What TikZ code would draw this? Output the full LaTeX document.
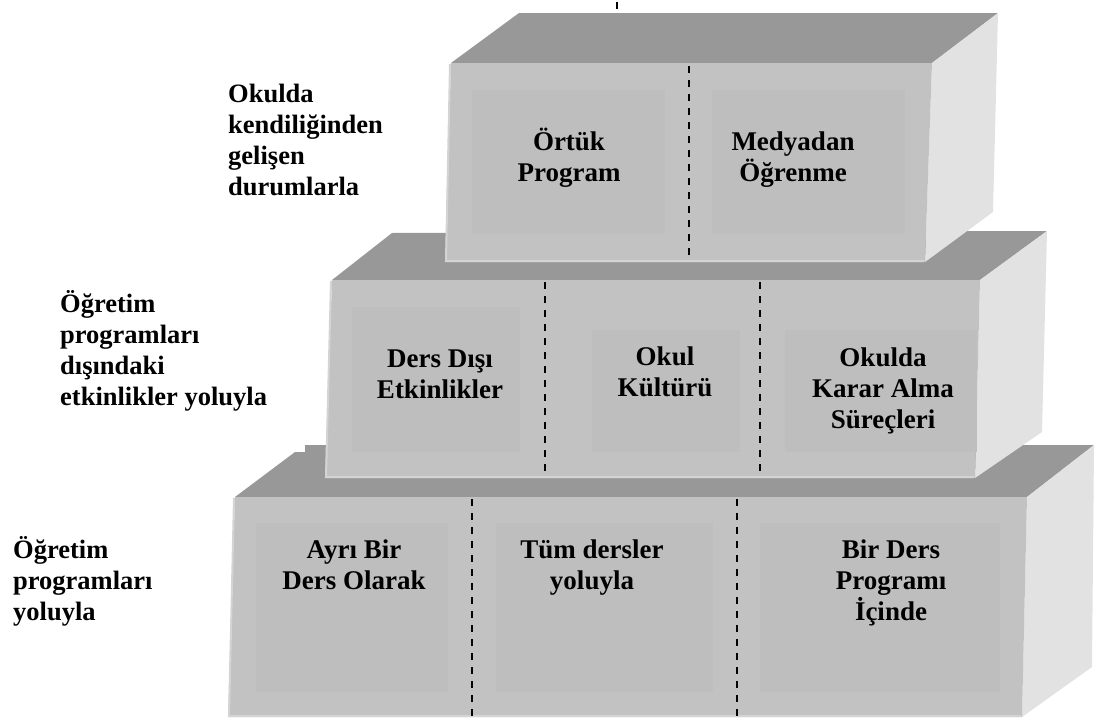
\documentclass[tikz,border=0pt]{standalone}
\usepackage{fontspec}
\setmainfont{Liberation Serif}
\definecolor{frontc}{HTML}{C2C2C2}
\definecolor{panelc}{HTML}{BEBEBE}
\definecolor{topc}{HTML}{989898}
\definecolor{sidec}{HTML}{E2E2E2}
\definecolor{edgec}{HTML}{D4D4D4}
\newcommand{\fstrut}{\rule{0pt}{25pt}}
\tikzset{
  front/.style={fill=frontc, draw=none},
  topface/.style={fill=topc, draw=none},
  sideface/.style={fill=sidec, draw=none},
  panel/.style={fill=panelc, draw=none},
  edgeline/.style={draw=edgec, line width=2pt},
  divider/.style={draw=black, line width=1.6pt, dash pattern=on 7pt off 7pt},
  boxtext/.style={font=\fontsize{27}{31}\selectfont\bfseries, align=center, anchor=north, inner sep=0pt},
  sidetext/.style={font=\fontsize{26.5}{31}\selectfont\bfseries, align=left, anchor=north west, inner sep=0pt}
}
\begin{document}
\begin{tikzpicture}[x=1pt, y=-1pt]
\useasboundingbox (0,0) rectangle (1095,720);
% ---------------- bottom box ----------------
\fill[topface] (235,497) -- (295,452) -- (305,452) -- (305,445) -- (1094,445) -- (1027,497) -- cycle;
\fill[sideface] (1027,497) -- (1094,445) -- (1092,667) -- (1022,717) -- cycle;
\fill[front] (235,497) -- (1027,497) -- (1022,717) -- (228,717) -- cycle;
\draw[edgeline] (234,498) -- (229,716) -- (1021,716);
\fill[panel] (256,523) rectangle (448,692);
\fill[panel] (496,523) rectangle (713,692);
\fill[panel] (760,523) rectangle (1000,692);
\coordinate (b1t) at (472,499); \coordinate (b1b) at (472,717);
\coordinate (b2t) at (737,499); \coordinate (b2b) at (737,717);
\draw[divider] (b1t) -- (b1b);
\draw[divider] (b2t) -- (b2b);
% ---------------- middle box ----------------
\fill[topface] (332,280) -- (392,233) -- (1047,231) -- (980,280) -- cycle;
\fill[sideface] (980,280) -- (1047,231) -- (1042,432) -- (975,478) -- cycle;
\fill[front] (332,280) -- (980,280) -- (975,478) -- (325,478) -- cycle;
\draw[edgeline] (331,281) -- (326,477) -- (974,477);
\fill[panel] (352,307) rectangle (520,452);
\fill[panel] (592,330) rectangle (740,452);
\fill[panel] (785,330) rectangle (977,452);
\coordinate (m1t) at (545,282); \coordinate (m1b) at (545,477);
\coordinate (m2t) at (760,282); \coordinate (m2b) at (760,477);
\draw[divider] (m1t) -- (m1b);
\draw[divider] (m2t) -- (m2b);
% ---------------- top box ----------------
\fill[topface] (451,63) -- (519,13) -- (998,13) -- (932,63) -- cycle;
\fill[sideface] (932,63) -- (998,13) -- (993,212) -- (925,262) -- cycle;
\fill[front] (451,63) -- (932,63) -- (925,262) -- (445,262) -- cycle;
\draw[edgeline] (450,64) -- (446,261) -- (924,261);
\fill[panel] (472,90) rectangle (665,234);
\fill[panel] (712,90) rectangle (905,234);
\coordinate (t1t) at (689,66); \coordinate (t1b) at (689,260);
\draw[divider] (t1t) -- (t1b);
\coordinate (tickt) at (617,2); \coordinate (tickb) at (617,9);
\draw[black, line width=1.6pt] (tickt) -- (tickb);
% ---------------- box texts ----------------
\node[boxtext] (ortuk) at (569,125) {\fstrut Örtük\\Program};
\node[boxtext] (medya) at (793,125) {\fstrut Medyadan\\Öğrenme};
\node[boxtext] (dersdisi) at (440,342) {\fstrut Ders Dışı\\Etkinlikler};
\node[boxtext] (okul) at (665,340) {\fstrut Okul\\Kültürü};
\node[boxtext] (karar) at (883,341) {\fstrut Okulda\\Karar Alma\\Süreçleri};
\node[boxtext] (ayri) at (354,533) {\fstrut Ayrı Bir\\Ders Olarak};
\node[boxtext] (tum) at (592,533) {\fstrut Tüm dersler\\yoluyla};
\node[boxtext] (bir) at (891,533) {\fstrut Bir Ders\\Programı\\İçinde};
% ---------------- side labels ----------------
\node[sidetext] (lab1) at (228,77) {\fstrut Okulda\\kendiliğinden\\gelişen\\durumlarla};
\node[sidetext] (lab2) at (60,287) {\fstrut Öğretim\\programları\\dışındaki\\etkinlikler yoluyla};
\node[sidetext] (lab3) at (13,533) {\fstrut Öğretim\\programları\\yoluyla};
\end{tikzpicture}
\end{document}
